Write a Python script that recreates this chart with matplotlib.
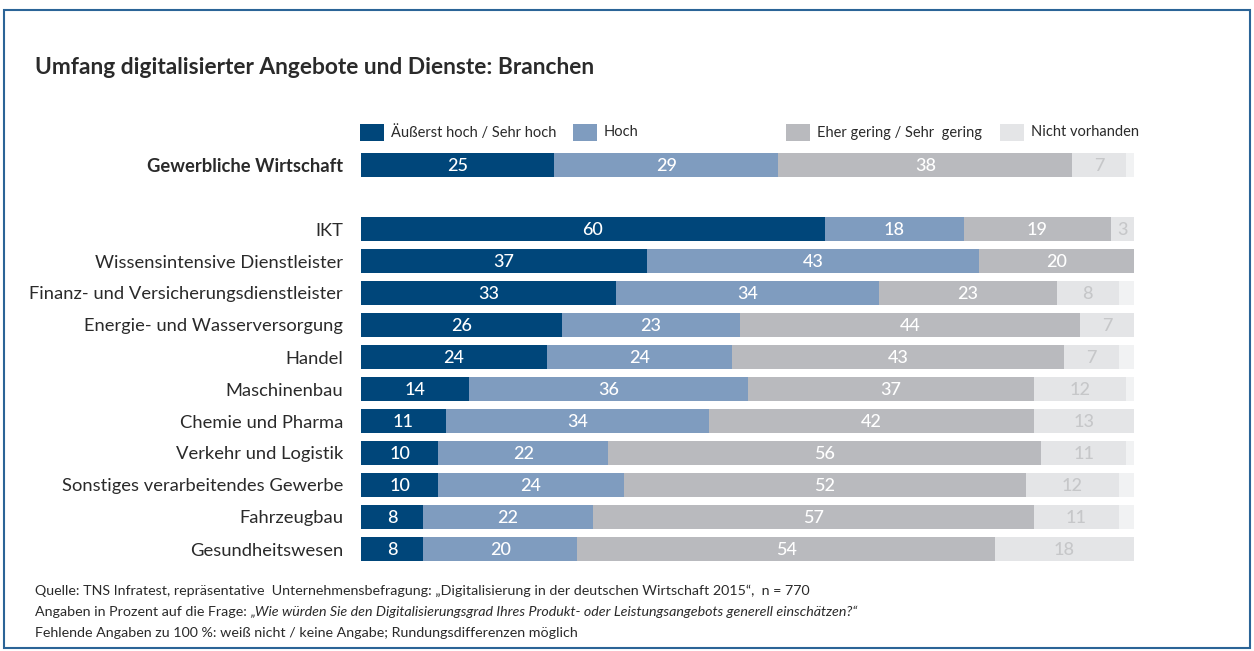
import matplotlib
matplotlib.use("Agg")
import matplotlib.pyplot as plt
from matplotlib.patches import Rectangle

plt.rcParams['font.family'] = ['Lato', 'DejaVu Sans']

# Data (percent)
branchen = [
    "Gewerbliche Wirtschaft",
    "IKT",
    "Wissensintensive Dienstleister",
    "Finanz- und Versicherungsdienstleister",
    "Energie- und Wasserversorgung",
    "Handel",
    "Maschinenbau",
    "Chemie und Pharma",
    "Verkehr und Logistik",
    "Sonstiges verarbeitendes Gewerbe",
    "Fahrzeugbau",
    "Gesundheitswesen",
]
sehr_hoch = [25, 60, 37, 33, 26, 24, 14, 11, 10, 10, 8, 8]
hoch = [29, 18, 43, 34, 23, 24, 36, 34, 22, 24, 22, 20]
gering = [38, 19, 20, 23, 44, 43, 37, 42, 56, 52, 57, 54]
nicht = [7, 3, 0, 8, 7, 7, 12, 13, 11, 12, 11, 18]
keine_angabe = [1, 0, 0, 2, 0, 2, 1, 0, 1, 2, 2, 0]

legend_labels = ["Äußerst hoch / Sehr hoch", "Hoch",
                 "Eher gering / Sehr  gering", "Nicht vorhanden"]

title = "Umfang digitalisierter Angebote und Dienste: Branchen"

C_DARK = "#00467a"
C_HOCH = "#7f9cbf"
C_GERING = "#b9babe"
C_NICHT = "#e4e5e7"
C_REST = "#f1f2f3"
C_TEXT = "#2a2a2a"
C_NICHT_TXT = "#c6c7c9"
C_FRAME = "#2b6497"

W, H = 1254, 651
fig = plt.figure(figsize=(W / 100, H / 100), dpi=100)


def fx(px):
    return px / W


def fy(py):
    return 1 - py / H


# row layout: first row separated from the branch rows by one empty slot
pos = [0] + list(range(2, 2 + len(branchen) - 1))

ax = fig.add_axes([fx(361), fy(565), fx(1134) - fx(361), fy(149) - fy(565)])
ax.set_xlim(0, 100)
ax.set_ylim(12.5, -0.5)
for s in ax.spines.values():
    s.set_visible(False)
ax.set_xticks([])
ax.tick_params(axis='y', length=0, pad=13)

series = [sehr_hoch, hoch, gering, nicht, keine_angabe]
colors = [C_DARK, C_HOCH, C_GERING, C_NICHT, C_REST]
txt_colors = ["white", "white", "white", C_NICHT_TXT, None]
left = [0] * len(branchen)
for vals, col, tcol in zip(series, colors, txt_colors):
    ax.barh(pos, vals, left=left, height=0.72, color=col, linewidth=0)
    if tcol is not None:
        for p, l, v in zip(pos, left, vals):
            if v > 0:
                ax.text(l + v / 2, p + 0.03, str(v), ha='center', va='center',
                        color=tcol, fontsize=13, fontweight='medium')
    left = [a + b for a, b in zip(left, vals)]

ax.set_yticks(pos)
ax.set_yticklabels(branchen, fontsize=13.2, color=C_TEXT)
ax.get_yticklabels()[0].set_fontweight('bold')

# title
fig.text(fx(35), fy(68), title, fontsize=16.4, fontweight='bold',
         color=C_TEXT, ha='left', va='center')

# legend
leg_x = [360, 573, 786, 1000]
for x0, lab, col in zip(leg_x, legend_labels, colors[:4]):
    fig.patches.append(Rectangle((fx(x0), fy(141)), fx(24), 17 / H,
                                 transform=fig.transFigure, color=col,
                                 linewidth=0))
    fig.text(fx(x0 + 31), fy(132.5), lab, fontsize=10.5, color=C_TEXT,
             ha='left', va='center')

# footer notes
renderer = fig.canvas.get_renderer()
FS = 10.3
fig.text(fx(35), fy(591),
         "Quelle: TNS Infratest, repräsentative  Unternehmensbefragung: "
         "„Digitalisierung in der deutschen Wirtschaft 2015“,  n = 770",
         fontsize=FS, color=C_TEXT, ha='left', va='center')
t1 = fig.text(fx(35), fy(612), "Angaben in Prozent auf die Frage: ",
              fontsize=FS, color=C_TEXT, ha='left', va='center')
bb = t1.get_window_extent(renderer)
fig.text(bb.x1 / W, fy(612),
         "„Wie würden Sie den Digitalisierungsgrad Ihres Produkt- oder "
         "Leistungsangebots generell einschätzen?“",
         fontsize=FS, color=C_TEXT, style='italic', ha='left', va='center')
fig.text(fx(35), fy(633),
         "Fehlende Angaben zu 100 %: weiß nicht / keine Angabe; "
         "Rundungsdifferenzen möglich",
         fontsize=FS, color=C_TEXT, ha='left', va='center')

# frame
fig.patches.append(Rectangle((fx(4), fy(648)), fx(1250) - fx(4),
                             fy(10) - fy(648), transform=fig.transFigure,
                             fill=False, edgecolor=C_FRAME, linewidth=1.5))

fig.savefig("out.png", dpi=100)
